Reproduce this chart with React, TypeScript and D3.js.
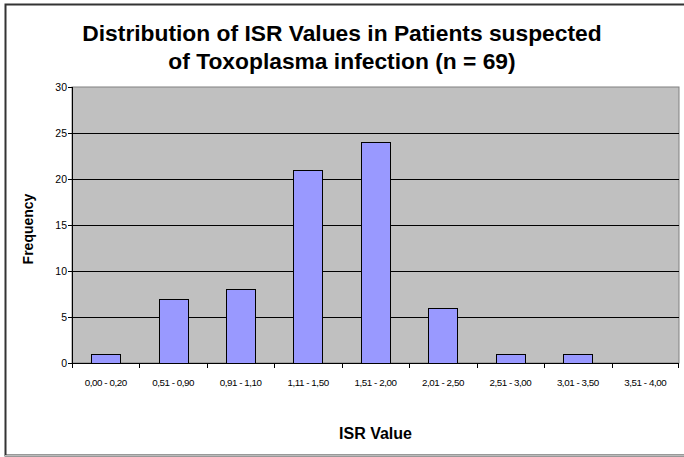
import React from 'react';
import * as d3 from 'd3';

const categories = [
  '0,00 - 0,20',
  '0,51 - 0,90',
  '0,91 - 1,10',
  '1,11 - 1,50',
  '1,51 - 2,00',
  '2,01 - 2,50',
  '2,51 - 3,00',
  '3,01 - 3,50',
  '3,51 - 4,00',
];
const frequency = [1, 7, 8, 21, 24, 6, 1, 1, 0];
const yTicks = [0, 5, 10, 15, 20, 25, 30];
const titleLines = [
  'Distribution of ISR Values in Patients suspected',
  'of Toxoplasma infection (n = 69)',
];

const W = 684;
const H = 457;
const margin = { top: 87, right: 5, bottom: 94, left: 72 };
const font = '"Liberation Sans", Arial, sans-serif';

const App: React.FC = () => {
  const innerW = W - margin.left - margin.right;
  const innerH = H - margin.top - margin.bottom;

  const x = d3.scaleBand<string>().domain(categories).range([0, innerW]).paddingInner(0).paddingOuter(0);
  const y = d3.scaleLinear().domain([0, 30]).range([innerH, 0]);

  const band = x.bandwidth();
  // excel-style gap width of 130%
  const barW = band / 2.3;

  return (
    <svg width={W} height={H} style={{ position: 'absolute', left: 0, top: 0, background: '#fff' }}>
      {/* outer frame */}
      <rect x={5.5} y={4.5} width={W + 10} height={451} fill="#fff" stroke="#333" strokeWidth={2} />
      <line x1={5} x2={W} y1={455.5} y2={455.5} stroke="#bbb" strokeWidth={1} />

      {titleLines.map((t, i) => (
        <text key={i} x={342} y={41 + i * 28} textAnchor="middle" fontFamily={font} fontWeight="bold" fontSize={22.8} fill="#000">
          {t}
        </text>
      ))}

      <g transform={`translate(${margin.left},${margin.top})`}>
        <rect x={0} y={0} width={innerW} height={innerH} fill="#c0c0c0" stroke="#808080" strokeWidth={1} />
        {yTicks.slice(1, -1).map(t => (
          <line key={t} x1={0} x2={innerW} y1={Math.round(y(t)) + 0.5} y2={Math.round(y(t)) + 0.5} stroke="#000" strokeWidth={1} />
        ))}

        {frequency.map((v, i) => {
          if (v === 0) return null;
          const cx = (x(categories[i]) ?? 0) + band / 2;
          return (
            <rect
              key={i}
              x={Math.round(cx - barW / 2) + 0.5}
              y={Math.round(y(v)) + 0.5}
              width={Math.round(barW)}
              height={Math.round(y(0)) - Math.round(y(v))}
              fill="#9999ff"
              stroke="#000"
              strokeWidth={1}
            />
          );
        })}

        {/* axes */}
        <line x1={0.5} x2={0.5} y1={0} y2={innerH} stroke="#000" />
        <line x1={0} x2={innerW} y1={innerH + 0.5} y2={innerH + 0.5} stroke="#000" />
        {yTicks.map(t => (
          <g key={t} transform={`translate(0,${Math.round(y(t)) + 0.5})`}>
            <line x1={-4} x2={0} stroke="#000" />
            <text x={-5} y={3} textAnchor="end" fontFamily={font} fontSize={10.5} fill="#000">{t}</text>
          </g>
        ))}
        {categories.map((c, i) => (
          <line key={c} x1={Math.round(i * band) + 0.5} x2={Math.round(i * band) + 0.5} y1={innerH} y2={innerH + 5} stroke="#000" />
        ))}
        <line x1={innerW - 0.5} x2={innerW - 0.5} y1={innerH} y2={innerH + 5} stroke="#000" />
        {categories.map(c => (
          <text key={c} x={(x(c) ?? 0) + band / 2} y={innerH + 23} textAnchor="middle" fontFamily={font} fontSize={9.8} letterSpacing={-0.45} fill="#000">
            {c}
          </text>
        ))}

        <text x={innerW / 2} y={439 - margin.top} textAnchor="middle" fontFamily={font} fontWeight="bold" fontSize={16} fill="#000">
          ISR Value
        </text>
        <text
          transform={`translate(${33 - margin.left},${229 - margin.top}) rotate(-90)`}
          textAnchor="middle"
          fontFamily={font}
          fontWeight="bold"
          fontSize={14}
          fill="#000"
        >
          Frequency
        </text>
      </g>
    </svg>
  );
};

export default App;
